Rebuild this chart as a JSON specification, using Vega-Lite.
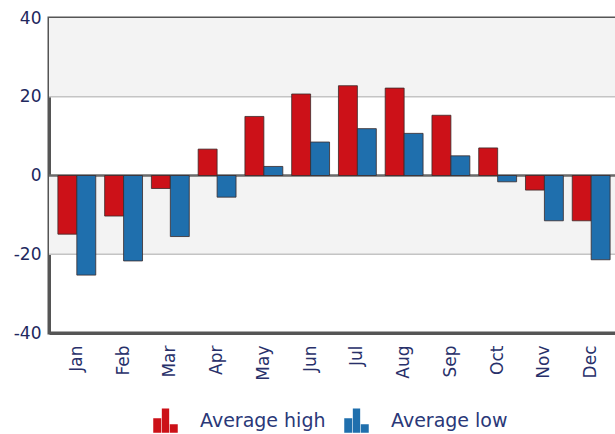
{
  "$schema": "https://vega.github.io/schema/vega-lite/v6.json",
  "width": 570,
  "height": 315,
  "autosize": "none",
  "padding": {"left": 49, "top": 18, "right": 0, "bottom": 101},
  "background": "white",
  "config": {
    "font": "DejaVu Sans",
    "view": {"stroke": "#555555", "strokeWidth": 3},
    "axis": {"labelFont": "DejaVu Sans", "labelColor": "#28306a"},
    "legend": {"labelFont": "DejaVu Sans"}
  },
  "datasets": {
    "temps": [
      {"month": "Jan", "series": "Average high", "value": -14.9},
      {"month": "Jan", "series": "Average low", "value": -25.3},
      {"month": "Feb", "series": "Average high", "value": -10.3},
      {"month": "Feb", "series": "Average low", "value": -21.7},
      {"month": "Mar", "series": "Average high", "value": -3.3},
      {"month": "Mar", "series": "Average low", "value": -15.5},
      {"month": "Apr", "series": "Average high", "value": 6.7},
      {"month": "Apr", "series": "Average low", "value": -5.5},
      {"month": "May", "series": "Average high", "value": 15.0},
      {"month": "May", "series": "Average low", "value": 2.3},
      {"month": "Jun", "series": "Average high", "value": 20.7},
      {"month": "Jun", "series": "Average low", "value": 8.5},
      {"month": "Jul", "series": "Average high", "value": 22.8},
      {"month": "Jul", "series": "Average low", "value": 11.9},
      {"month": "Aug", "series": "Average high", "value": 22.2},
      {"month": "Aug", "series": "Average low", "value": 10.7},
      {"month": "Sep", "series": "Average high", "value": 15.3},
      {"month": "Sep", "series": "Average low", "value": 5.0},
      {"month": "Oct", "series": "Average high", "value": 7.0},
      {"month": "Oct", "series": "Average low", "value": -1.6},
      {"month": "Nov", "series": "Average high", "value": -3.7},
      {"month": "Nov", "series": "Average low", "value": -11.5},
      {"month": "Dec", "series": "Average high", "value": -11.5},
      {"month": "Dec", "series": "Average low", "value": -21.4}
    ],
    "bands": [
      {"lo": 20, "hi": 40},
      {"lo": -20, "hi": 0}
    ],
    "grid": [
      {"v": 20},
      {"v": -20}
    ],
    "zero": [
      {"v": 0}
    ]
  },
  "layer": [
    {
      "data": {"name": "bands"},
      "mark": {"type": "rect", "color": "#f3f3f3"},
      "encoding": {
        "y": {"field": "lo", "type": "quantitative", "scale": {"domain": [-40, 40], "nice": false}},
        "y2": {"field": "hi"}
      }
    },
    {
      "data": {"name": "grid"},
      "mark": {"type": "rule", "color": "#c4c4c4", "strokeWidth": 1.5},
      "encoding": {
        "y": {"field": "v", "type": "quantitative"}
      }
    },
    {
      "data": {"name": "zero"},
      "mark": {"type": "rule", "color": "#6a6a6a", "strokeWidth": 2.5},
      "encoding": {
        "y": {"field": "v", "type": "quantitative"}
      }
    },
    {
      "data": {"name": "temps"},
      "mark": {"type": "bar", "stroke": "#3a2a2a", "strokeWidth": 0.8},
      "encoding": {
        "x": {
          "field": "month",
          "type": "nominal",
          "sort": ["Jan","Feb","Mar","Apr","May","Jun","Jul","Aug","Sep","Oct","Nov","Dec"],
          "scale": {"paddingInner": 0.19, "paddingOuter": 0.19},
          "axis": {
            "title": null,
            "labelAngle": -90,
            "labelFontSize": 17,
            "labelPadding": 12,
            "ticks": false,
            "domainColor": "#555555",
            "domainWidth": 3,
            "labelColor": "#28306a"
          }
        },
        "xOffset": {
          "field": "series",
          "type": "nominal",
          "scale": {"paddingInner": 0, "paddingOuter": 0}
        },
        "y": {
          "field": "value",
          "type": "quantitative",
          "scale": {"domain": [-40, 40], "nice": false},
          "axis": {
            "title": null,
            "values": [-40, -20, 0, 20, 40],
            "labelExpr": "toString(datum.value)",
            "grid": false,
            "ticks": false,
            "labelFontSize": 17,
            "labelPadding": 8,
            "labelColor": "#22285e",
            "domainColor": "#555555",
            "domainWidth": 3
          }
        },
        "color": {
          "field": "series",
          "type": "nominal",
          "scale": {"domain": ["Average high", "Average low"], "range": ["#cc1118", "#1f6fad"]},
          "legend": {
            "title": null,
            "orient": "none",
            "legendX": 104,
            "legendY": 390,
            "direction": "horizontal",
            "labelFontSize": 19,
            "labelColor": "#2a3878",
            "symbolType": "M-1,1L-1,-0.2L-0.35,-0.2L-0.35,1Z M-0.3,1L-0.3,-1L0.3,-1L0.3,1Z M0.35,1L0.35,0.3L1,0.3L1,1Z",
            "symbolSize": 600,
            "symbolStrokeWidth": 0,
            "symbolOpacity": 1,
            "columnPadding": 18,
            "labelOffset": 22
          }
        }
      }
    }
  ]
}
